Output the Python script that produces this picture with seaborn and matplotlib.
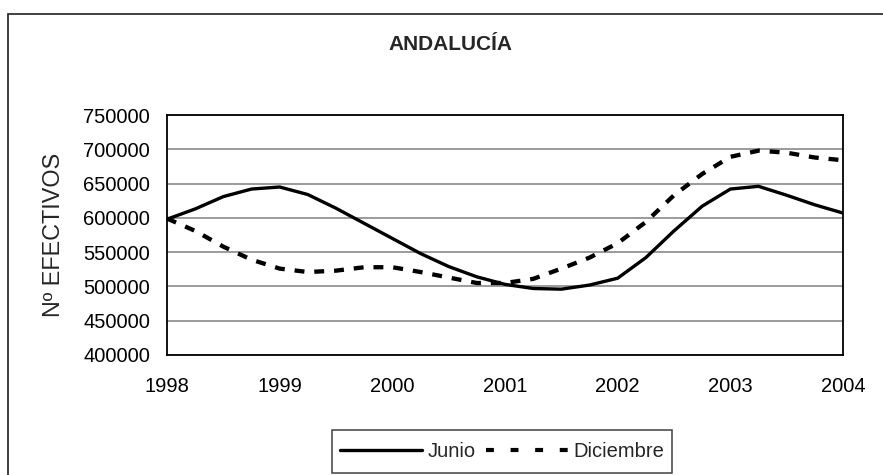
import matplotlib
matplotlib.use("Agg")
import matplotlib.pyplot as plt
from matplotlib.patches import Rectangle
from matplotlib.lines import Line2D
import seaborn as sns
import pandas as pd

# ---- data ----
periods = [1998.0, 1998.25, 1998.5, 1998.75, 1999.0, 1999.25, 1999.5, 1999.75,
           2000.0, 2000.25, 2000.5, 2000.75, 2001.0, 2001.25, 2001.5, 2001.75,
           2002.0, 2002.25, 2002.5, 2002.75, 2003.0, 2003.25, 2003.5, 2003.75,
           2004.0]
junio = [598000, 613000, 631000, 642000, 645000, 634000, 614000, 592000,
         570000, 548000, 529000, 514000, 503000, 497000, 496000, 502000,
         512000, 542000, 581000, 617000, 642000, 646000, 633000, 619000,
         607000]
diciembre = [599000, 581000, 558000, 539000, 526000, 521000, 523000, 528000,
             528000, 521000, 513000, 505000, 505000, 511000, 526000, 542000,
             563000, 594000, 633000, 664000, 689000, 698000, 695000, 688000,
             684000]
series_names = ["Junio", "Diciembre"]
year_ticks = [1998, 1999, 2000, 2001, 2002, 2003, 2004]
y_ticks = [400000, 450000, 500000, 550000, 600000, 650000, 700000, 750000]
title = "ANDALUCÍA"
ylabel = "Nº EFECTIVOS"

df_j = pd.DataFrame({"periodo": periods, "valor": junio})
df_d = pd.DataFrame({"periodo": periods, "valor": diciembre})

sns.set_theme(style="white")
plt.rcParams["font.family"] = ["Liberation Sans", "DejaVu Sans"]

W, H = 883, 475
FS = 14.5
fig = plt.figure(figsize=(W / 100, H / 100), dpi=100)
fig.patch.set_facecolor("white")

def px_rect(x0, y0, x1, y1, **kw):
    return Rectangle((x0 / W, 1 - y1 / H), (x1 - x0) / W, (y1 - y0) / H,
                     transform=fig.transFigure, fill=False, clip_on=False, **kw)

# outer chart frame (cut by image border on right and bottom)
fig.add_artist(px_rect(8, 14, 1000, 600, edgecolor="#303030", linewidth=1.3))

L, R, T, B = 167, 843, 115, 355
ax = fig.add_axes([L / W, 1 - B / H, (R - L) / W, (B - T) / H])

lw_j, lw_d = 2.4, 3.1
sns.lineplot(data=df_j, x="periodo", y="valor", color="black",
             linewidth=lw_j, ax=ax, label=series_names[0], legend=False)
sns.lineplot(data=df_d, x="periodo", y="valor", color="black",
             linewidth=lw_d, ax=ax, label=series_names[1], legend=False)
ax.lines[1].set_dashes((2.3, 2.3))
ax.lines[1].set_dash_capstyle("butt")

ax.set_xlim(1998, 2004)
ax.set_ylim(400000, 750000)
ax.set_xticks(year_ticks)
ax.set_xticklabels([str(y) for y in year_ticks])
ax.set_yticks(y_ticks)
ax.set_yticklabels([str(v) for v in y_ticks])
ax.set_xlabel("")
ax.set_ylabel(ylabel, fontsize=16.8)
ax.yaxis.set_label_coords((65 - L) / (R - L), 0.5)

ax.grid(axis="y", color="#808080", linewidth=1.1)
ax.grid(axis="x", visible=False)
ax.set_axisbelow(True)
for s in ax.spines.values():
    s.set_visible(True)
    s.set_color("black")
    s.set_linewidth(1.3)

ax.tick_params(axis="both", which="major", labelsize=FS, colors="black",
               direction="out", length=4.5, width=1.1)
ax.tick_params(axis="x", pad=11.0)
ax.tick_params(axis="y", pad=7.7)

fig.text(450 / W, 1 - 44.5 / H, title, ha="center", va="center",
         fontsize=15, fontweight="bold")

# legend: proxy handles with the legend's own dash look, frame drawn by hand
h_j = Line2D([], [], color="black", linewidth=2.4)
h_d = Line2D([], [], color="black", linewidth=3.0, dashes=(1.9, 4.0),
             dash_capstyle="butt")
leg = fig.legend([h_j, h_d], series_names, loc="center", ncol=2,
                 bbox_to_anchor=(502 / W, 1 - 451.5 / H),
                 fontsize=FS, frameon=False, handlelength=4.1,
                 handletextpad=0.25, columnspacing=0.5, borderpad=0.0)
fig.add_artist(px_rect(332, 430, 672, 473, edgecolor="#404040", linewidth=1.1))

fig.savefig("out.png", dpi=100, facecolor="white")
